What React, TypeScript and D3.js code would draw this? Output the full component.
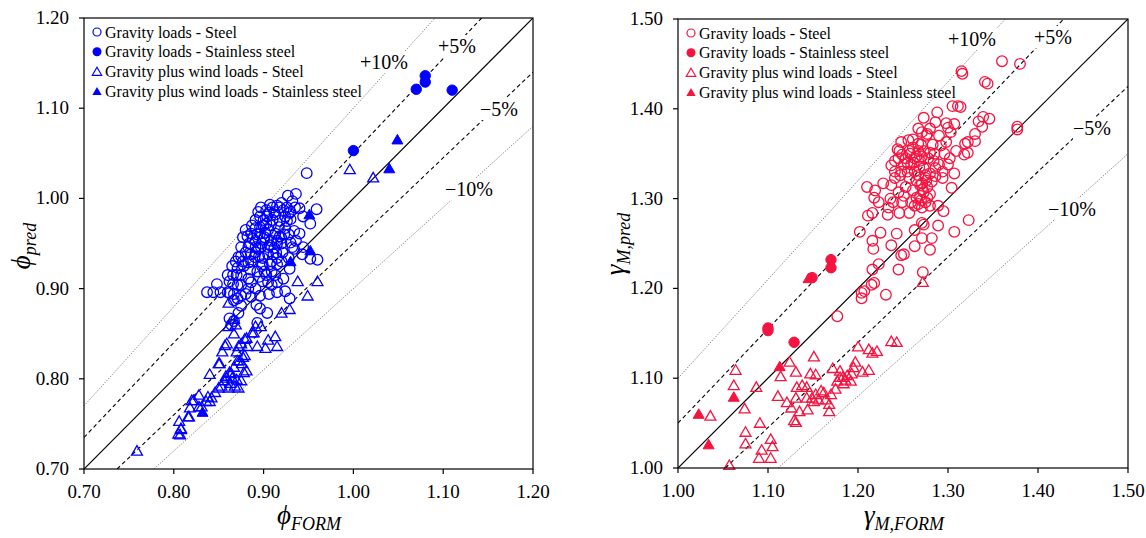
import React from "react";
import * as d3 from "d3";

// ---------- DATA ----------
// Left panel: phi_FORM (x) vs phi_pred (y)
const phiGravitySteel: [number, number][] = [
  [0.948, 1.028], [0.936, 1.005], [0.927, 1.003], [0.932, 0.997], [0.959, 0.988], [0.952, 0.972],
  [0.944, 0.98], [0.96, 0.932], [0.952, 0.933], [0.943, 0.938], [0.944, 0.946], [0.934, 0.944],
  [0.929, 0.922], [0.93, 0.951], [0.924, 0.897], [0.929, 0.889], [0.892, 0.882], [0.896, 0.878],
  [0.904, 0.873], [0.872, 0.873], [0.862, 0.867], [0.867, 0.864], [0.893, 0.862], [0.837, 0.896],
  [0.844, 0.896], [0.848, 0.905], [0.852, 0.896], [0.867, 0.894], [0.871, 0.889], [0.88, 0.894],
  [0.886, 0.891], [0.896, 0.892], [0.906, 0.894], [0.915, 0.907], [0.922, 0.911], [0.913, 0.915],
  [0.905, 0.907], [0.895, 0.913], [0.883, 0.911], [0.875, 0.904], [0.866, 0.915], [0.871, 0.923],
  [0.865, 0.925], [0.875, 0.936], [0.877, 0.957], [0.88, 0.965], [0.891, 0.967], [0.896, 0.98],
  [0.907, 0.993], [0.915, 0.992], [0.922, 0.987], [0.924, 0.98], [0.94, 0.989], [0.93, 0.977],
  [0.934, 0.964], [0.928, 0.96], [0.92, 0.956], [0.915, 0.95], [0.883, 0.946], [0.891, 0.94],
  [0.886, 0.93], [0.899, 0.927], [0.909, 0.93], [0.915, 0.927], [0.891, 0.953], [0.901, 0.957],
  [0.903, 0.972], [0.91, 0.976], [0.906, 0.984], [0.9, 0.976], [0.896, 0.961], [0.908, 0.953],
  [0.913, 0.961], [0.917, 0.968], [0.924, 0.967], [0.92, 0.95], [0.885, 0.921], [0.893, 0.919],
  [0.901, 0.919], [0.909, 0.919], [0.915, 0.934], [0.905, 0.938], [0.897, 0.946], [0.891, 0.946],
  [0.875, 0.915], [0.877, 0.93], [0.869, 0.93], [0.875, 0.946], [0.886, 0.938], [0.899, 0.934],
  [0.907, 0.927], [0.903, 0.915], [0.886, 0.907], [0.891, 0.9], [0.883, 0.9], [0.875, 0.892],
  [0.871, 0.904], [0.862, 0.908], [0.86, 0.915], [0.86, 0.896], [0.867, 0.887], [0.875, 0.881],
  [0.899, 0.908], [0.915, 0.896], [0.909, 0.904], [0.928, 0.934], [0.932, 0.946], [0.936, 0.953],
  [0.94, 0.961], [0.928, 0.984], [0.92, 0.995], [0.913, 0.982], [0.903, 0.987], [0.896, 0.968],
  [0.891, 0.976], [0.886, 0.961], [0.895, 0.936], [0.883, 0.929], [0.915, 0.953], [0.905, 0.946],
  [0.911, 0.938], [0.902, 0.962], [0.908, 0.97], [0.912, 0.945], [0.918, 0.958], [0.898, 0.95],
  [0.894, 0.944], [0.888, 0.955], [0.904, 0.98], [0.918, 0.975], [0.926, 0.99], [0.91, 0.99],
  [0.897, 0.99], [0.921, 0.94], [0.88, 0.94], [0.87, 0.915],
  [0.905, 0.965], [0.912, 0.985], [0.918, 0.99], [0.9, 0.955], [0.907, 0.948], [0.914, 0.94],
  [0.92, 0.93], [0.898, 0.925], [0.89, 0.935], [0.884, 0.95], [0.893, 0.96], [0.9, 0.97],
  [0.923, 0.96], [0.926, 0.975], [0.93, 0.985], [0.935, 0.99], [0.894, 0.985], [0.887, 0.97],
  [0.882, 0.958], [0.878, 0.925], [0.872, 0.935], [0.866, 0.905], [0.862, 0.895], [0.864, 0.86],
];
const phiGravityStainless: [number, number][] = [
  [1.0, 1.053], [1.07, 1.121], [1.08, 1.136], [1.08, 1.129], [1.11, 1.12],
];
const phiWindSteel: [number, number][] = [
  [0.996, 1.032], [1.022, 1.023], [0.96, 0.908], [0.938, 0.908], [0.949, 0.892], [0.929, 0.877],
  [0.92, 0.873], [0.861, 0.884], [0.759, 0.72], [0.805, 0.739], [0.808, 0.744], [0.806, 0.753],
  [0.816, 0.758], [0.82, 0.776], [0.828, 0.782], [0.831, 0.769], [0.836, 0.775], [0.84, 0.805],
  [0.842, 0.779], [0.846, 0.785], [0.85, 0.817], [0.85, 0.79], [0.854, 0.83], [0.856, 0.798],
  [0.859, 0.839], [0.861, 0.858], [0.862, 0.807], [0.867, 0.866], [0.867, 0.813], [0.868, 0.792],
  [0.871, 0.82], [0.872, 0.836], [0.872, 0.79], [0.875, 0.839], [0.876, 0.817], [0.879, 0.826],
  [0.881, 0.809], [0.881, 0.845], [0.887, 0.851], [0.891, 0.858], [0.893, 0.836], [0.897, 0.858],
  [0.902, 0.834], [0.905, 0.843], [0.913, 0.847], [0.915, 0.836], [0.853, 0.792], [0.858, 0.803],
  [0.865, 0.801], [0.878, 0.807], [0.875, 0.798], [0.869, 0.86], [0.889, 0.851], [0.867, 0.85],
  [0.879, 0.844], [0.857, 0.837], [0.882, 0.836], [0.87, 0.83], [0.877, 0.824], [0.873, 0.82],
  [0.851, 0.817], [0.864, 0.806], [0.859, 0.801], [0.863, 0.795], [0.87, 0.799], [0.861, 0.79],
  [0.838, 0.78], [0.84, 0.775], [0.828, 0.769], [0.818, 0.768], [0.817, 0.758], [0.808, 0.745],
  [0.807, 0.738], [0.822, 0.776],
];
const phiWindStainless: [number, number][] = [
  [1.049, 1.065], [1.04, 1.033], [0.951, 0.982], [0.952, 0.942], [0.93, 0.93], [0.832, 0.763],
];

// Right panel: gamma_M,FORM (x) vs gamma_M,pred (y)
const gamGravitySteel: [number, number][] = [
  [1.177, 1.169], [1.231, 1.193], [1.204, 1.189], [1.204, 1.195], [1.207, 1.197], [1.215, 1.204],
  [1.218, 1.206], [1.245, 1.221], [1.216, 1.221], [1.223, 1.227], [1.272, 1.218], [1.28, 1.243],
  [1.271, 1.256], [1.282, 1.256], [1.289, 1.27], [1.271, 1.273], [1.273, 1.271], [1.263, 1.265],
  [1.263, 1.247], [1.251, 1.238], [1.248, 1.237], [1.237, 1.248], [1.243, 1.261], [1.225, 1.262],
  [1.216, 1.253], [1.217, 1.244], [1.202, 1.263], [1.211, 1.281], [1.216, 1.284], [1.233, 1.282],
  [1.246, 1.284], [1.257, 1.284], [1.21, 1.313], [1.219, 1.309], [1.218, 1.301], [1.223, 1.296],
  [1.228, 1.317], [1.234, 1.29], [1.236, 1.3], [1.239, 1.296], [1.237, 1.337], [1.241, 1.33],
  [1.241, 1.342], [1.246, 1.353], [1.248, 1.363], [1.256, 1.365], [1.261, 1.366], [1.273, 1.39],
  [1.267, 1.378], [1.271, 1.374], [1.28, 1.378], [1.277, 1.372], [1.288, 1.396], [1.286, 1.385],
  [1.298, 1.384], [1.3, 1.379], [1.303, 1.374], [1.307, 1.383], [1.305, 1.403], [1.311, 1.403],
  [1.314, 1.402], [1.316, 1.439], [1.315, 1.442], [1.341, 1.43], [1.344, 1.428], [1.36, 1.453],
  [1.38, 1.45], [1.377, 1.38], [1.377, 1.377], [1.346, 1.389], [1.339, 1.391], [1.334, 1.386],
  [1.338, 1.38], [1.33, 1.372], [1.33, 1.364], [1.322, 1.363], [1.319, 1.361], [1.322, 1.351],
  [1.318, 1.349], [1.309, 1.353], [1.302, 1.345], [1.298, 1.363], [1.292, 1.359], [1.307, 1.328],
  [1.304, 1.312], [1.294, 1.323], [1.286, 1.334], [1.286, 1.325], [1.295, 1.286], [1.289, 1.292],
  [1.307, 1.263], [1.323, 1.276], [1.28, 1.292], [1.275, 1.296], [1.269, 1.303], [1.277, 1.313],
  [1.271, 1.317], [1.275, 1.323], [1.28, 1.328], [1.273, 1.334], [1.269, 1.342], [1.265, 1.347],
  [1.261, 1.357], [1.267, 1.361], [1.273, 1.353], [1.28, 1.351], [1.284, 1.342], [1.29, 1.338],
  [1.294, 1.33], [1.257, 1.353], [1.253, 1.345], [1.251, 1.338], [1.255, 1.33], [1.259, 1.338],
  [1.263, 1.33], [1.267, 1.326], [1.257, 1.323], [1.253, 1.313], [1.261, 1.309], [1.265, 1.301],
  [1.259, 1.296], [1.251, 1.303], [1.245, 1.307], [1.249, 1.296], [1.241, 1.323], [1.247, 1.326],
  [1.237, 1.315], [1.273, 1.307], [1.277, 1.301], [1.271, 1.29], [1.267, 1.294], [1.263, 1.292],
  [1.282, 1.319], [1.275, 1.326], [1.269, 1.315], [1.249, 1.349], [1.245, 1.345], [1.271, 1.347],
  [1.267, 1.353], [1.263, 1.345],
  [1.262, 1.34], [1.258, 1.35], [1.27, 1.36], [1.278, 1.345], [1.285, 1.35], [1.272, 1.31],
  [1.276, 1.32], [1.28, 1.305], [1.27, 1.298], [1.265, 1.32], [1.255, 1.34], [1.248, 1.33],
  [1.244, 1.355], [1.268, 1.335], [1.276, 1.37], [1.283, 1.36], [1.29, 1.37], [1.296, 1.35],
  [1.3, 1.338],
];
const gamGravityStainless: [number, number][] = [
  [1.17, 1.232], [1.17, 1.223], [1.149, 1.212], [1.1, 1.156], [1.1, 1.153], [1.129, 1.14],
];
const gamWindSteel: [number, number][] = [
  [1.057, 1.003], [1.036, 1.058], [1.064, 1.109], [1.062, 1.092], [1.074, 1.066], [1.075, 1.04],
  [1.075, 1.027], [1.087, 1.09], [1.091, 1.05], [1.093, 1.02], [1.09, 1.011], [1.103, 1.032],
  [1.105, 1.024], [1.103, 1.011], [1.111, 1.08], [1.114, 1.102], [1.124, 1.118], [1.121, 1.073],
  [1.126, 1.067], [1.131, 1.107], [1.132, 1.09], [1.131, 1.078], [1.129, 1.053], [1.131, 1.051],
  [1.135, 1.063], [1.138, 1.092], [1.143, 1.09], [1.144, 1.065], [1.147, 1.105], [1.151, 1.124],
  [1.153, 1.104], [1.143, 1.078], [1.151, 1.074], [1.149, 1.078], [1.153, 1.082], [1.156, 1.076],
  [1.159, 1.086], [1.162, 1.084], [1.164, 1.076], [1.168, 1.071], [1.168, 1.063], [1.17, 1.082],
  [1.172, 1.111], [1.175, 1.088], [1.177, 1.097], [1.18, 1.108], [1.18, 1.101], [1.183, 1.101],
  [1.184, 1.094], [1.192, 1.097], [1.193, 1.105], [1.195, 1.112], [1.197, 1.118], [1.2, 1.135],
  [1.205, 1.107], [1.212, 1.109], [1.212, 1.132], [1.216, 1.128], [1.221, 1.13], [1.237, 1.141],
  [1.243, 1.14], [1.272, 1.207], [1.186, 1.098], [1.188, 1.103],
];
const gamWindStainless: [number, number][] = [
  [1.113, 1.113], [1.062, 1.079], [1.023, 1.06], [1.034, 1.026], [1.145, 1.211],
];

const phiTicks = [0.7, 0.8, 0.9, 1.0, 1.1, 1.2];
const gamTicks = [1.0, 1.1, 1.2, 1.3, 1.4, 1.5];
const legendLabels = [
  "Gravity loads - Steel",
  "Gravity loads - Stainless steel",
  "Gravity plus wind loads - Steel",
  "Gravity plus wind loads - Stainless steel",
];
const bandRatios = [1.1, 1.05, 1.0, 0.95, 0.9];
const bandNames = ["+10%", "+5%", "", "\u22125%", "\u221210%"];

const FONT = "Times New Roman, Liberation Serif, DejaVu Serif, serif";

type Panel = {
  x0: number; x1: number; y0: number; y1: number;
  domain: [number, number];
  ticks: number[];
  color: string;
  series: [number, number][][];
  labelPos: [number, number][];
  yTitle: { main: string; sub: string; x: number; y: number };
  xTitle: { main: string; sub: string; x: number; y: number };
};

const triPath = (size: number) => d3.symbol(d3.symbolTriangle, size)() as string;

function PanelView({ p }: { p: Panel }) {
  const xs = d3.scaleLinear().domain(p.domain).range([p.x0, p.x1]);
  const ys = d3.scaleLinear().domain(p.domain).range([p.y0, p.y1]);
  const [lo, hi] = p.domain;
  const clipId = `clip-${p.x0}`;
  const tri = triPath(52);
  const triLeg = triPath(38);
  const lineStyles = [
    { dash: "1.2,1.6", w: 0.8, c: "#555" },
    { dash: "4,3", w: 1.1, c: "#000" },
    { dash: "", w: 1.2, c: "#000" },
    { dash: "4,3", w: 1.1, c: "#000" },
    { dash: "1.2,1.6", w: 0.8, c: "#555" },
  ];
  return (
    <g style={{ fontFamily: FONT }}>
      <defs>
        <clipPath id={clipId}>
          <rect x={p.x0} y={p.y1} width={p.x1 - p.x0} height={p.y0 - p.y1} />
        </clipPath>
      </defs>
      <g clipPath={`url(#${clipId})`}>
        {bandRatios.map((k, i) => {
          const xa = Math.max(lo, lo / k);
          const xb = Math.min(hi, hi / k);
          const s = lineStyles[i];
          return (
            <line key={i} x1={xs(xa)} y1={ys(xa * k)} x2={xs(xb)} y2={ys(xb * k)}
              stroke={s.c} strokeWidth={s.w} strokeDasharray={s.dash || undefined} />
          );
        })}
      </g>
      {bandNames.map((t, i) => {
        if (!t) return null;
        const [cx, cy] = p.labelPos[i];
        const w = t.length * 12 + 2;
        return (
          <g key={i}>
            <rect x={cx - w / 2} y={cy - 11} width={w} height={22} fill="#fff" />
            <text x={cx} y={cy + 7} textAnchor="middle" fontSize={20}>{t}</text>
          </g>
        );
      })}
      <g fill="none" stroke={p.color} strokeWidth={1.3}>
        {p.series[0].map((d, i) => (
          <circle key={`a${i}`} cx={xs(d[0])} cy={ys(d[1])} r={5.3} />
        ))}
        {p.series[2].map((d, i) => (
          <path key={`c${i}`} d={tri} transform={`translate(${xs(d[0])},${ys(d[1]) + 1})`} />
        ))}
      </g>
      <g fill={p.color} stroke={p.color} strokeWidth={1}>
        {p.series[1].map((d, i) => (
          <circle key={`b${i}`} cx={xs(d[0])} cy={ys(d[1])} r={5.2} />
        ))}
        {p.series[3].map((d, i) => (
          <path key={`d${i}`} d={tri} transform={`translate(${xs(d[0])},${ys(d[1]) + 1})`} />
        ))}
      </g>
      <rect x={p.x0} y={p.y1} width={p.x1 - p.x0} height={p.y0 - p.y1} fill="none" stroke="#000" strokeWidth={1.2} />
      {p.ticks.map((t, i) => (
        <g key={`xt${i}`}>
          <line x1={xs(t)} x2={xs(t)} y1={p.y0} y2={p.y0 + 5} stroke="#000" strokeWidth={1.2} />
          <text x={xs(t)} y={p.y0 + 29} textAnchor="middle" fontSize={19}>{t.toFixed(2)}</text>
          <line x1={p.x0 - 5} x2={p.x0} y1={ys(t)} y2={ys(t)} stroke="#000" strokeWidth={1.2} />
          <text x={p.x0 - 15} y={ys(t) + 6} textAnchor="end" fontSize={19}>{t.toFixed(2)}</text>
        </g>
      ))}
      {legendLabels.map((l, i) => {
        const ly = p.y1 + 14 + i * 19.8;
        const mx = p.x0 + 13;
        let marker;
        if (i === 0) marker = <circle cx={mx} cy={ly} r={4} fill="none" stroke={p.color} strokeWidth={1.2} />;
        else if (i === 1) marker = <circle cx={mx} cy={ly} r={4.5} fill={p.color} />;
        else if (i === 2) marker = <path d={triLeg} transform={`translate(${mx},${ly + 1})`} fill="none" stroke={p.color} strokeWidth={1.2} />;
        else marker = <path d={triLeg} transform={`translate(${mx},${ly + 1})`} fill={p.color} />;
        return (
          <g key={`lg${i}`}>
            {marker}
            <text x={p.x0 + 21} y={ly + 5.5} fontSize={16}>{l}</text>
          </g>
        );
      })}
      <text transform={`translate(${p.yTitle.x},${p.yTitle.y}) rotate(-90)`} textAnchor="middle" fontStyle="italic">
        <tspan fontSize={27}>{p.yTitle.main}</tspan>
        <tspan fontSize={18} dy={6}>{p.yTitle.sub}</tspan>
      </text>
      <text x={p.xTitle.x} y={p.xTitle.y} textAnchor="middle" fontStyle="italic">
        <tspan fontSize={27}>{p.xTitle.main}</tspan>
        <tspan fontSize={18} dy={6}>{p.xTitle.sub}</tspan>
      </text>
    </g>
  );
}

export default function App() {
  const left: Panel = {
    x0: 84, x1: 533, y0: 469, y1: 18,
    domain: [0.7, 1.2],
    ticks: phiTicks,
    color: "#0000ff",
    series: [phiGravitySteel, phiGravityStainless, phiWindSteel, phiWindStainless],
    labelPos: [[384, 62], [457, 46], [0, 0], [499, 109], [469, 189]],
    yTitle: { main: "\u03d5", sub: "pred", x: 30, y: 246 },
    xTitle: { main: "\u03d5", sub: "FORM", x: 309, y: 524 },
  };
  const right: Panel = {
    x0: 678, x1: 1128, y0: 468, y1: 19,
    domain: [1.0, 1.5],
    ticks: gamTicks,
    color: "#f5133f",
    series: [gamGravitySteel, gamGravityStainless, gamWindSteel, gamWindStainless],
    labelPos: [[972, 39], [1053, 37], [0, 0], [1092, 128], [1072, 209]],
    yTitle: { main: "\u03b3", sub: "M,pred", x: 624, y: 244 },
    xTitle: { main: "\u03b3", sub: "M,FORM", x: 904, y: 524 },
  };
  return (
    <svg width={1146} height={538} style={{ position: "absolute", left: 0, top: 0, background: "#fff" }}>
      <rect width={1146} height={538} fill="#fff" />
      <PanelView p={left} />
      <PanelView p={right} />
    </svg>
  );
}
